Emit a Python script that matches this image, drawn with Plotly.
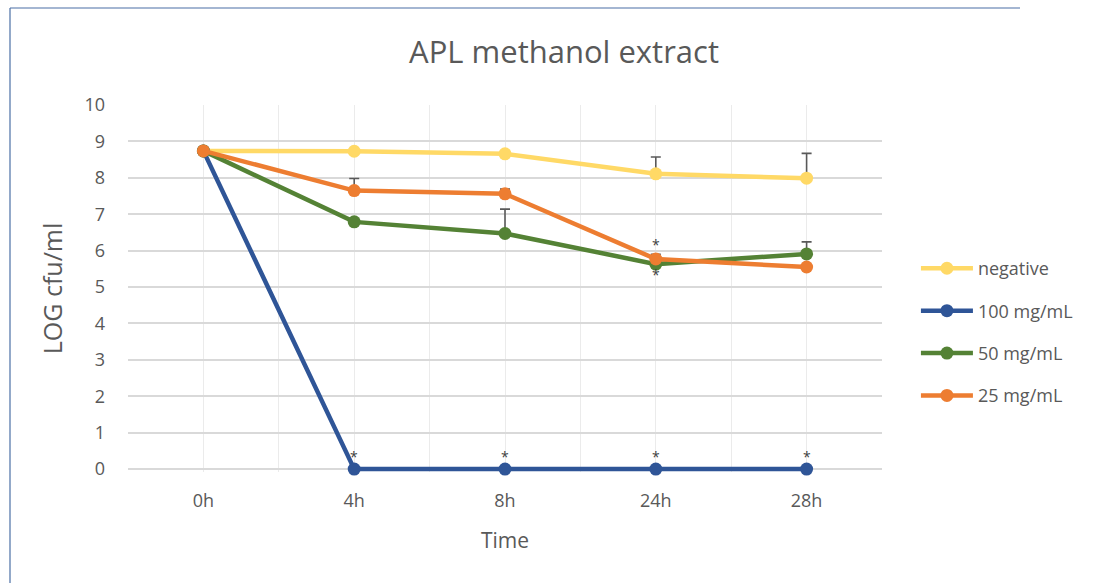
import plotly.graph_objects as go

categories = ["0h", "4h", "8h", "24h", "28h"]
series_names = ["negative", "100 mg/mL", "50 mg/mL", "25 mg/mL"]
negative = [8.74, 8.73, 8.66, 8.11, 7.99]
mg100 = [8.74, 0, 0, 0, 0]
mg50 = [8.74, 6.79, 6.47, 5.63, 5.91]
mg25 = [8.74, 7.65, 7.56, 5.77, 5.55]
err_negative = [0, 0, 0, 0.46, 0.68]
err_100 = [0, 0, 0, 0, 0]
err_50 = [0, 0, 0.67, 0, 0.33]
err_25 = [0, 0.33, 0.13, 0.13, 0]
# significance stars (category indices)
stars_100 = [1, 2, 3, 4]
stars_50 = [3]
stars_25 = [3]

colors = ["#FFD966", "#2F5597", "#548235", "#ED7D31"]
values = [negative, mg100, mg50, mg25]
errs = [err_negative, err_100, err_50, err_25]

xs = list(range(len(categories)))
fig = go.Figure()
for name, vals, er, col in zip(series_names, values, errs, colors):
    fig.add_trace(go.Scatter(
        x=xs, y=vals, name=name, mode="lines+markers",
        line=dict(color=col, width=4.5),
        marker=dict(color=col, size=13),
        legendgroup=name, cliponaxis=False,
        error_y=dict(type="data", symmetric=False, array=er, arrayminus=[0]*len(er),
                     color="#595959", thickness=1.6, width=5),
    ))

star_font = dict(size=14, color="#404040", family="Open Sans")
ann = []
for i in stars_100:
    ann.append(dict(x=i, y=mg100[i], text="*", showarrow=False, yshift=13, font=star_font))
for i in stars_25:
    ann.append(dict(x=i, y=mg25[i], text="*", showarrow=False, yshift=15, font=star_font))
for i in stars_50:
    ann.append(dict(x=i, y=mg50[i], text="*", showarrow=False, yshift=-10, font=star_font))

YMIN, YMAX = -0.08, 10.0
L, R, T = 128, 882, 105
PPU = 36.4
B = 469 + (0 - YMIN) * PPU
W, H = R - L, B - T
def px(x): return (x - L) / W
def py(y): return (B - y) / H

shapes = [
    dict(type="line", xref="paper", yref="paper", x0=px(10), x1=px(1020), y0=py(8), y1=py(8),
         line=dict(color="#4A6FA5", width=1.2)),
    dict(type="line", xref="paper", yref="paper", x0=px(10), x1=px(10), y0=py(8), y1=py(590),
         line=dict(color="#4A6FA5", width=1.2)),
]

fig.update_layout(
    width=1115, height=583,
    margin=dict(l=L, r=1115 - R, t=T, b=583 - B),
    paper_bgcolor="white", plot_bgcolor="white",
    font=dict(family="Open Sans", color="#595959", size=17),
    title=dict(text="APL methanol extract", x=564 / 1115, xanchor="center",
               y=1 - 52 / 583, yanchor="middle",
               font=dict(size=31, color="#595959", family="Open Sans")),
    xaxis=dict(range=[-0.5, 4.5], tickvals=xs, ticktext=categories,
               showgrid=True, gridcolor="#EBEBEB", gridwidth=1,
               minor=dict(dtick=0.5, tick0=0.5, showgrid=True, gridcolor="#EBEBEB", gridwidth=1),
               zeroline=False, showline=False, ticks="",
               tickfont=dict(size=18, color="#595959"), ticklabelstandoff=16,
               title=dict(text="Time", font=dict(size=21, color="#595959"), standoff=22)),
    yaxis=dict(range=[YMIN, YMAX], tickvals=list(range(11)), showgrid=True, gridcolor="#D9D9D9", gridwidth=1.5,
               zeroline=False, showline=False, ticks="",
               tickfont=dict(size=18, color="#595959"), ticklabelstandoff=22,
               title=dict(text="LOG cfu/ml", font=dict(size=25, color="#595959"), standoff=14)),
    legend=dict(x=1.045, y=py(332), xanchor="left", yanchor="middle",
                font=dict(size=18, color="#595959"), itemwidth=52,
                tracegroupgap=16, bgcolor="rgba(0,0,0,0)"),
    annotations=ann,
    shapes=shapes,
    showlegend=True,
)

fig.write_html("out.html")
